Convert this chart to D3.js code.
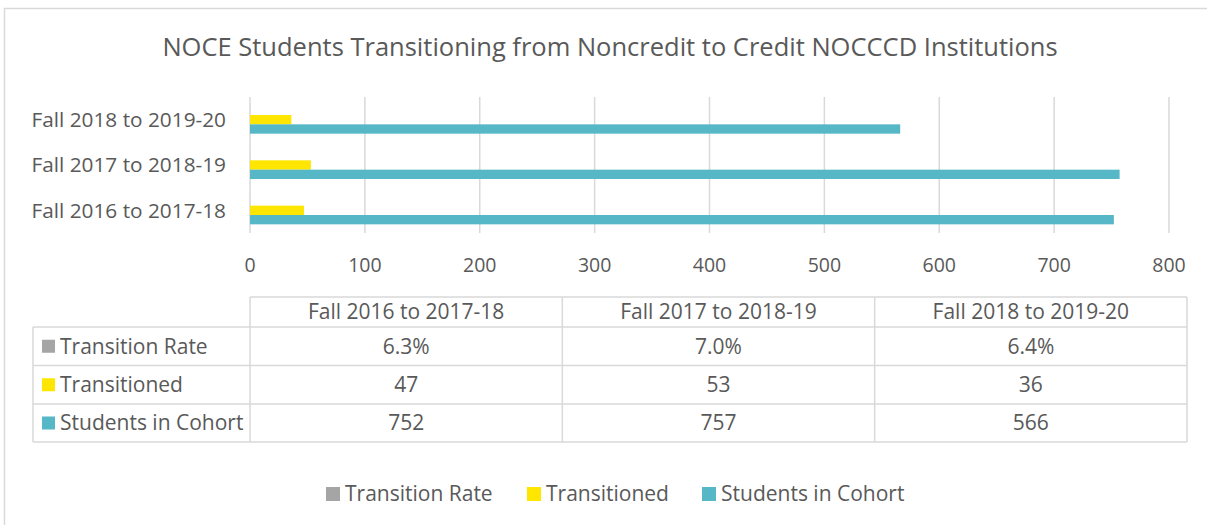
<!DOCTYPE html>
<html>
<head>
<meta charset="utf-8">
<script src="https://cdn.jsdelivr.net/npm/d3@7"></script>
<style>
  body { margin: 0; background: #fff; }
  svg { display: block; font-family: "Open Sans", sans-serif; }
</style>
</head>
<body>
<svg id="chart" width="1207" height="525"></svg>
<script>
// data
const categories = ['Fall 2016 to 2017-18', 'Fall 2017 to 2018-19', 'Fall 2018 to 2019-20'];
const seriesNames = ['Transition Rate', 'Transitioned', 'Students in Cohort'];
const transitionRate = [0.063, 0.070, 0.064];
const transitioned = [47, 53, 36];
const studentsInCohort = [752, 757, 566];
const xTicks = [0, 100, 200, 300, 400, 500, 600, 700, 800];
const colors = ['#A5A5A5', '#FFE600', '#56B7C7'];

const textColor = '#595959';
const gridColor = '#D9D9D9';

const svg = d3.select('#chart');

// outer chart border
svg.append('rect')
    .attr('x', 4.5).attr('y', 8.5)
    .attr('width', 1220).attr('height', 530)
    .attr('fill', 'none').attr('stroke', gridColor).attr('stroke-width', 1.5);

svg.append('text')
    .attr('x', 610).attr('y', 56)
    .attr('text-anchor', 'middle')
    .attr('font-size', 25.5)
    .attr('fill', textColor)
    .text('NOCE Students Transitioning from Noncredit to Credit NOCCCD Institutions');

const x = d3.scaleLinear().domain([0, 800]).range([250, 1169]);
const y = d3.scaleBand()
    .domain(categories.slice().reverse())
    .range([97, 233])
    .paddingInner(0.382)
    .paddingOuter(0.191);
const ySub = d3.scaleBand().domain(seriesNames).range([0, y.bandwidth()]);

// grid lines
svg.append('g').selectAll('line')
    .data(xTicks)
    .join('line')
    .attr('x1', d => x(d)).attr('x2', d => x(d))
    .attr('y1', 97).attr('y2', 233)
    .attr('stroke', gridColor).attr('stroke-width', 1.5);

// x tick labels
svg.append('g').selectAll('text')
    .data(xTicks)
    .join('text')
    .attr('x', d => x(d)).attr('y', 272)
    .attr('text-anchor', 'middle')
    .attr('font-size', 19.5)
    .attr('fill', textColor)
    .text(d => d);

// category labels
svg.append('g').selectAll('text')
    .data(categories)
    .join('text')
    .attr('x', 226)
    .attr('y', d => y(d) + y.bandwidth() / 2)
    .attr('dy', '0.35em')
    .attr('text-anchor', 'end')
    .attr('font-size', 20.8)
    .attr('fill', textColor)
    .text(d => d);

// bars
const seriesValues = [transitionRate, transitioned, studentsInCohort];
seriesNames.forEach((name, si) => {
    svg.append('g').selectAll('rect')
        .data(categories.map((c, i) => ({ c, v: seriesValues[si][i] })))
        .join('rect')
        .attr('x', x(0))
        .attr('y', d => y(d.c) + ySub(name))
        .attr('width', d => x(d.v) - x(0))
        .attr('height', ySub.bandwidth())
        .attr('fill', colors[si]);
});

// data table
const tableLeft = 33;
const col = d3.scaleBand().domain(categories).range([250, 1187]);
const rowTops = [297, 327, 365.5, 404, 442];
const tableRows = [
    { name: 'Transition Rate', vals: transitionRate.map(d3.format('.1%')) },
    { name: 'Transitioned', vals: transitioned.map(String) },
    { name: 'Students in Cohort', vals: studentsInCohort.map(String) }
];
const tg = svg.append('g').attr('stroke', gridColor).attr('stroke-width', 1.5);
// horizontal lines
tg.append('line').attr('x1', 250).attr('x2', 1187).attr('y1', rowTops[0]).attr('y2', rowTops[0]);
rowTops.slice(1).forEach(t => {
    tg.append('line').attr('x1', tableLeft).attr('x2', 1187).attr('y1', t).attr('y2', t);
});
// vertical lines
tg.append('line').attr('x1', tableLeft).attr('x2', tableLeft).attr('y1', rowTops[1]).attr('y2', rowTops[4]);
categories.forEach(c => {
    tg.append('line').attr('x1', col(c)).attr('x2', col(c)).attr('y1', rowTops[0]).attr('y2', rowTops[4]);
});
tg.append('line').attr('x1', 1187).attr('x2', 1187).attr('y1', rowTops[0]).attr('y2', rowTops[4]);

const cellFont = 21;

// header text
svg.append('g').selectAll('text')
    .data(categories)
    .join('text')
    .attr('x', d => col(d) + col.bandwidth() / 2)
    .attr('y', (rowTops[0] + rowTops[1]) / 2)
    .attr('dy', '0.35em')
    .attr('text-anchor', 'middle')
    .attr('font-size', cellFont)
    .attr('fill', textColor)
    .text(d => d);

tableRows.forEach((row, ri) => {
    const cy = (rowTops[ri + 1] + rowTops[ri + 2]) / 2;
    svg.append('rect')
        .attr('x', 42).attr('y', cy - 6.5)
        .attr('width', 13).attr('height', 13)
        .attr('fill', colors[ri]);
    svg.append('text')
        .attr('x', 60).attr('y', cy)
        .attr('dy', '0.35em')
        .attr('font-size', cellFont)
        .attr('fill', textColor)
        .text(row.name);
    svg.append('g').selectAll('text')
        .data(row.vals)
        .join('text')
        .attr('x', (d, i) => col(categories[i]) + col.bandwidth() / 2)
        .attr('y', cy)
        .attr('dy', '0.35em')
        .attr('text-anchor', 'middle')
        .attr('font-size', cellFont)
        .attr('fill', textColor)
        .text(d => d);
});

// legend
const legendX = [326, 527, 702];
const legend = svg.append('g').selectAll('g')
    .data(seriesNames)
    .join('g')
    .attr('transform', (d, i) => `translate(${legendX[i]},494)`);
legend.append('rect')
    .attr('x', 0).attr('y', -7)
    .attr('width', 14).attr('height', 14)
    .attr('fill', (d, i) => colors[i]);
legend.append('text')
    .attr('x', 19).attr('y', 0)
    .attr('dy', '0.35em')
    .attr('font-size', cellFont)
    .attr('fill', textColor)
    .text(d => d);
</script>
</body>
</html>
